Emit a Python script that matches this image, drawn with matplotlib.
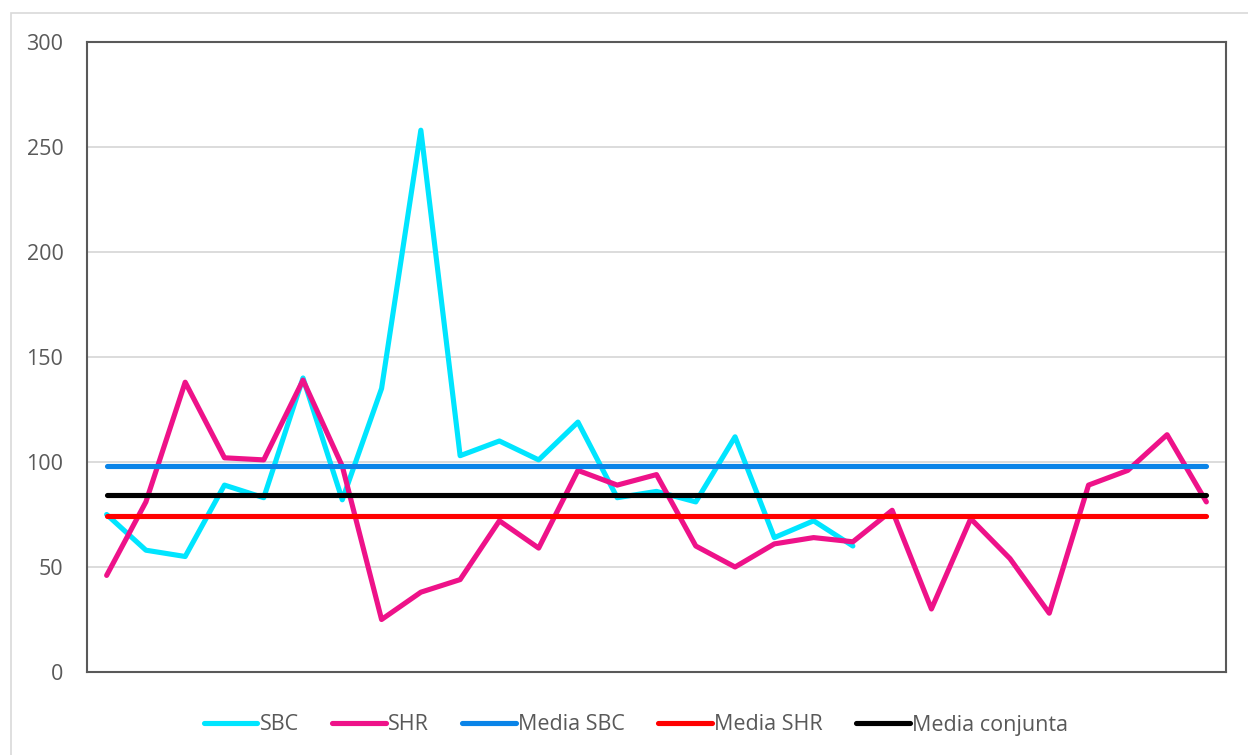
import matplotlib.pyplot as plt
from matplotlib.patches import Rectangle
import numpy as np

sbc = [75, 58, 55, 89, 83, 140, 82, 135, 258, 103, 110, 101, 119, 83, 86, 81,
       112, 64, 72, 60]
shr = [46, 81, 138, 102, 101, 139, 98, 25, 38, 44, 72, 59, 96, 89, 94, 60, 50,
       61, 64, 62, 77, 30, 73, 54, 28, 89, 96, 113, 81]
yticks = [0, 50, 100, 150, 200, 250, 300]

media_sbc = np.mean(sbc)
media_shr = np.mean(shr)
media_conj = np.mean(sbc + shr)

plt.rcParams['font.family'] = ['Open Sans', 'DejaVu Sans']

fig = plt.figure(figsize=(12.48, 7.55), dpi=100)
ax = fig.add_axes([87 / 1248, 1 - 672 / 755, (1226 - 87) / 1248, (672 - 42) / 755])

# outer chart border (Excel style)
fig.patches.append(Rectangle((11 / 1248, -0.1), 1.2, 1 - 13 / 755 + 0.1,
                             transform=fig.transFigure, fill=False,
                             edgecolor="#d9d9d9", linewidth=1.2))

n = len(shr)
x_all = np.arange(n)
lw = 3.7
ax.plot(np.arange(len(sbc)), sbc, color="#00e5ff", lw=lw, label="SBC",
        solid_capstyle="round", solid_joinstyle="round", zorder=3)
ax.plot(x_all, shr, color="#ee1289", lw=lw, label="SHR",
        solid_capstyle="round", solid_joinstyle="round", zorder=4)
ax.plot(x_all, [media_sbc] * n, color="#0a84e8", lw=lw, label="Media SBC",
        solid_capstyle="round", zorder=5)
ax.plot(x_all, [media_shr] * n, color="#ff0000", lw=lw, label="Media SHR",
        solid_capstyle="round", zorder=5)
ax.plot(x_all, [media_conj] * n, color="#000000", lw=lw, label="Media conjunta",
        solid_capstyle="round", zorder=5)

ax.set_xlim(-0.5, n - 0.5)
ax.set_ylim(0, 300)
ax.set_yticks(yticks)
ax.set_xticks([])
ax.tick_params(axis="y", length=0, pad=17, labelsize=15.5, labelcolor="#595959")
ax.grid(axis="y", color="#d9d9d9", linewidth=1.3, zorder=0)
ax.set_axisbelow(True)
for s in ax.spines.values():
    s.set_color("#595959")
    s.set_linewidth(1.5)

leg = fig.legend(loc="center", bbox_to_anchor=(636 / 1248, 1 - 725 / 755),
                 ncol=5, frameon=False, fontsize=15.5, handlelength=2.5,
                 handletextpad=0.1, columnspacing=1.55)
for t in leg.get_texts():
    t.set_color("#595959")

plt.savefig("out.png", dpi=100)
